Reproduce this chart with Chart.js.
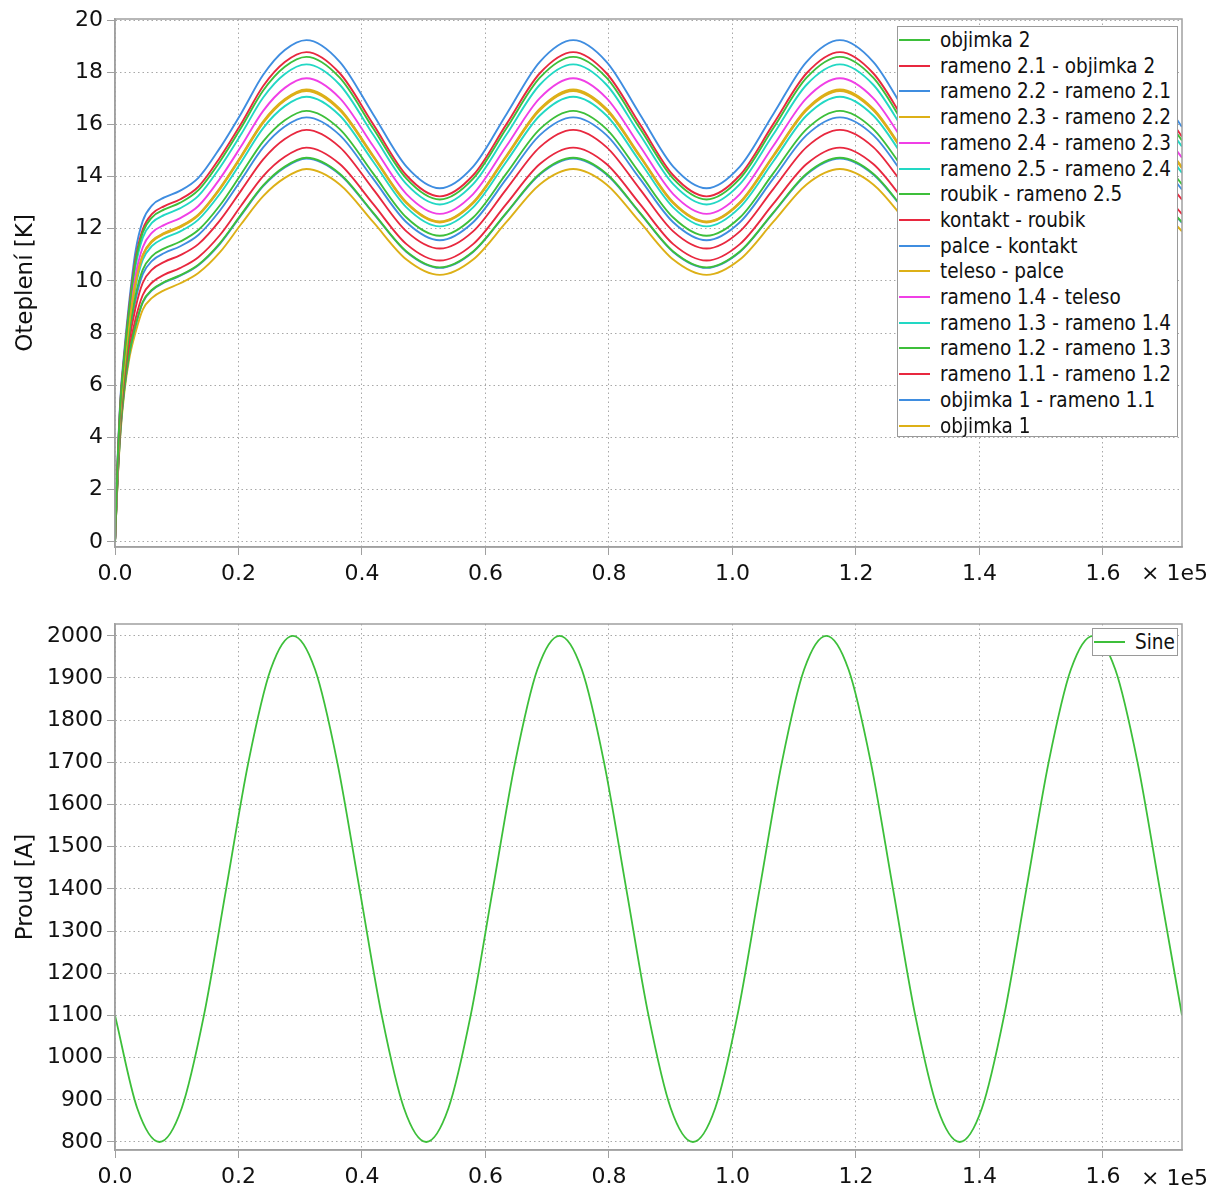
<!DOCTYPE html>
<html>
<head>
<meta charset="utf-8">
<script src="https://cdn.jsdelivr.net/npm/chart.js@4.4.1/dist/chart.umd.min.js"></script>
<style>
  body { margin: 0; background: #fff; }
  #wrap { position: relative; width: 1221px; height: 1195px; }
  canvas { position: absolute; left: 0; }
  .legend {
    position: absolute; background: #fff; border: 1px solid #9a9a9a; box-sizing: border-box;
    font-family: "DejaVu Sans Condensed", "DejaVu Sans", sans-serif; font-size: 20.5px; color: #111;
  }
  .legend .row { position: absolute; left: 0; right: 0; height: 26px; line-height: 26px; white-space: nowrap; }
  .legend .swatch { position: absolute; left: 1px; top: 12px; width: 31px; height: 2px; }
  .legend .txt { position: absolute; left: 42px; top: 0; }
</style>
</head>
<body>
<div id="wrap">
  <canvas id="tempChart" width="1221" height="598" style="top:0"></canvas>
  <canvas id="currentChart" width="1221" height="597" style="top:598px"></canvas>
  <div id="tempLegend" class="legend" style="left:897px; top:26px; width:281px; height:411px;"></div>
  <div id="currentLegend" class="legend" style="left:1092px; top:628px; width:86px; height:28px;"></div>
</div>
<script>
// time axis (s) for the temperature curves
const times = [0, 400, 900, 1500, 2300, 3300, 4500, 6000, 8000, 10500, 13500, 17000, 20500, 24000, 27500, 31000,
  36400, 41800, 47200, 52600, 58000, 63400, 68800, 74200,
  79600, 85000, 90400, 95800, 101200, 106600, 112000, 117400,
  122800, 128200, 133600, 139000, 144400, 149800, 155200, 160600,
  166000, 171400, 172800];

// temperature rise [K], one array per link
const tObjimka2 = [0, 2.90, 5.42, 7.09, 8.91, 10.70, 11.86, 12.44, 12.74, 12.99, 13.48, 14.58, 15.90, 17.30, 18.21, 18.59,
  17.79, 15.85, 13.92, 13.12, 13.92, 15.85, 17.79, 18.59,
  17.79, 15.85, 13.92, 13.12, 13.92, 15.85, 17.79, 18.59,
  17.79, 15.85, 13.92, 13.12, 13.92, 15.85, 17.79, 18.59,
  17.79, 15.85, 15.38];
const tRameno21 = [0, 2.93, 5.47, 7.15, 9.00, 10.81, 11.98, 12.57, 12.87, 13.12, 13.61, 14.73, 16.05, 17.47, 18.39, 18.77,
  17.96, 16.01, 14.05, 13.24, 14.05, 16.01, 17.96, 18.77,
  17.96, 16.01, 14.05, 13.24, 14.05, 16.01, 17.96, 18.77,
  17.96, 16.01, 14.05, 13.24, 14.05, 16.01, 17.96, 18.77,
  17.96, 16.01, 15.53];
const tRameno22 = [0, 3.0, 5.6, 7.3, 9.2, 11.1, 12.3, 12.9, 13.2, 13.45, 13.95, 15.1, 16.45, 17.9, 18.85, 19.23,
  18.40, 16.39, 14.38, 13.55, 14.38, 16.39, 18.40, 19.23,
  18.40, 16.39, 14.38, 13.55, 14.38, 16.39, 18.40, 19.23,
  18.40, 16.39, 14.38, 13.55, 14.38, 16.39, 18.40, 19.23,
  18.40, 16.39, 15.90];
const tRameno23 = [0, 2.69, 5.06, 6.69, 8.36, 9.91, 11.00, 11.54, 11.84, 12.09, 12.55, 13.57, 14.82, 16.12, 16.97, 17.34,
  16.60, 14.81, 13.02, 12.28, 13.02, 14.81, 16.60, 17.34,
  16.60, 14.81, 13.02, 12.28, 13.02, 14.81, 16.60, 17.34,
  16.60, 14.81, 13.02, 12.28, 13.02, 14.81, 16.60, 17.34,
  16.60, 14.81, 14.37];
const tRameno24 = [0, 2.76, 5.19, 6.83, 8.55, 10.18, 11.29, 11.85, 12.15, 12.40, 12.87, 13.92, 15.19, 16.52, 17.40, 17.77,
  17.01, 15.17, 13.33, 12.57, 13.33, 15.17, 17.01, 17.77,
  17.01, 15.17, 13.33, 12.57, 13.33, 15.17, 17.01, 17.77,
  17.01, 15.17, 13.33, 12.57, 13.33, 15.17, 17.01, 17.77,
  17.01, 15.17, 14.72];
const tRameno25 = [0, 2.85, 5.34, 7.00, 8.79, 10.52, 11.66, 12.23, 12.53, 12.78, 13.26, 14.35, 15.65, 17.03, 17.93, 18.30,
  17.52, 15.61, 13.71, 12.93, 13.71, 15.61, 17.52, 18.30,
  17.52, 15.61, 13.71, 12.93, 13.71, 15.61, 17.52, 18.30,
  17.52, 15.61, 13.71, 12.93, 13.71, 15.61, 17.52, 18.30,
  17.52, 15.61, 15.15];
const tRoubik = [0, 2.56, 4.83, 6.42, 7.99, 9.40, 10.43, 10.95, 11.25, 11.50, 11.95, 12.90, 14.12, 15.35, 16.16, 16.52,
  15.82, 14.12, 12.43, 11.73, 12.43, 14.12, 15.82, 16.52,
  15.82, 14.12, 12.43, 11.73, 12.43, 14.12, 15.82, 16.52,
  15.82, 14.12, 12.43, 11.73, 12.43, 14.12, 15.82, 16.52,
  15.82, 14.12, 13.70];
const tKontakt = [0, 2.44, 4.63, 6.19, 7.67, 8.94, 9.93, 10.43, 10.73, 10.98, 11.41, 12.32, 13.49, 14.66, 15.44, 15.79,
  15.13, 13.52, 11.90, 11.24, 11.90, 13.52, 15.13, 15.79,
  15.13, 13.52, 11.90, 11.24, 11.90, 13.52, 15.13, 15.79,
  15.13, 13.52, 11.90, 11.24, 11.90, 13.52, 15.13, 15.79,
  15.13, 13.52, 13.12];
const tPalce = [0, 2.52, 4.76, 6.34, 7.88, 9.24, 10.26, 10.77, 11.07, 11.32, 11.76, 12.70, 13.90, 15.12, 15.92, 16.27,
  15.59, 13.92, 12.25, 11.56, 12.25, 13.92, 15.59, 16.27,
  15.59, 13.92, 12.25, 11.56, 12.25, 13.92, 15.59, 16.27,
  15.59, 13.92, 12.25, 11.56, 12.25, 13.92, 15.59, 16.27,
  15.59, 13.92, 13.50];
const tTeleso = [0, 2.68, 5.05, 6.67, 8.33, 9.88, 10.96, 11.50, 11.80, 12.05, 12.51, 13.52, 14.77, 16.06, 16.92, 17.28,
  16.54, 14.76, 12.97, 12.24, 12.97, 14.76, 16.54, 17.28,
  16.54, 14.76, 12.97, 12.24, 12.97, 14.76, 16.54, 17.28,
  16.54, 14.76, 12.97, 12.24, 12.97, 14.76, 16.54, 17.28,
  16.54, 14.76, 14.32];
const tRameno14 = [0, 2.69, 5.06, 6.68, 8.34, 9.89, 10.98, 11.52, 11.82, 12.07, 12.53, 13.54, 14.80, 16.09, 16.94, 17.31,
  16.57, 14.78, 13.00, 12.26, 13.00, 14.78, 16.57, 17.31,
  16.57, 14.78, 13.00, 12.26, 13.00, 14.78, 16.57, 17.31,
  16.57, 14.78, 13.00, 12.26, 13.00, 14.78, 16.57, 17.31,
  16.57, 14.78, 14.34];
const tRameno13 = [0, 2.65, 4.99, 6.60, 8.23, 9.74, 10.81, 11.34, 11.64, 11.89, 12.35, 13.34, 14.58, 15.86, 16.70, 17.06,
  16.34, 14.58, 12.82, 12.09, 12.82, 14.58, 16.34, 17.06,
  16.34, 14.58, 12.82, 12.09, 12.82, 14.58, 16.34, 17.06,
  16.34, 14.58, 12.82, 12.09, 12.82, 14.58, 16.34, 17.06,
  16.34, 14.58, 14.14];
const tRameno12 = [0, 2.27, 4.32, 5.84, 7.19, 8.27, 9.20, 9.66, 9.96, 10.21, 10.62, 11.45, 12.57, 13.66, 14.38, 14.72,
  14.11, 12.62, 11.13, 10.52, 11.13, 12.62, 14.11, 14.72,
  14.11, 12.62, 11.13, 10.52, 11.13, 12.62, 14.11, 14.72,
  14.11, 12.62, 11.13, 10.52, 11.13, 12.62, 14.11, 14.72,
  14.11, 12.62, 12.25];
const tRameno11 = [0, 2.33, 4.43, 5.97, 7.37, 8.52, 9.46, 9.94, 10.24, 10.49, 10.91, 11.76, 12.91, 14.02, 14.76, 15.11,
  14.48, 12.95, 11.41, 10.78, 11.41, 12.95, 14.48, 15.11,
  14.48, 12.95, 11.41, 10.78, 11.41, 12.95, 14.48, 15.11,
  14.48, 12.95, 11.41, 10.78, 11.41, 12.95, 14.48, 15.11,
  14.48, 12.95, 12.56];
const tObjimka1Link = [0, 2.27, 4.31, 5.83, 7.18, 8.25, 9.18, 9.64, 9.94, 10.19, 10.60, 11.42, 12.54, 13.63, 14.35, 14.69,
  14.08, 12.60, 11.11, 10.50, 11.11, 12.60, 14.08, 14.69,
  14.08, 12.60, 11.11, 10.50, 11.11, 12.60, 14.08, 14.69,
  14.08, 12.60, 11.11, 10.50, 11.11, 12.60, 14.08, 14.69,
  14.08, 12.60, 12.22];
const tObjimka1 = [0, 2.2, 4.2, 5.7, 7.0, 8.0, 8.9, 9.35, 9.65, 9.9, 10.3, 11.1, 12.2, 13.25, 13.95, 14.29,
  13.70, 12.26, 10.82, 10.23, 10.82, 12.26, 13.70, 14.29,
  13.70, 12.26, 10.82, 10.23, 10.82, 12.26, 13.70, 14.29,
  13.70, 12.26, 10.82, 10.23, 10.82, 12.26, 13.70, 14.29,
  13.70, 12.26, 11.90];

const tempLabels = ["objimka 2", "rameno 2.1 - objimka 2", "rameno 2.2 - rameno 2.1", "rameno 2.3 - rameno 2.2",
  "rameno 2.4 - rameno 2.3", "rameno 2.5 - rameno 2.4", "roubik - rameno 2.5", "kontakt - roubik",
  "palce - kontakt", "teleso - palce", "rameno 1.4 - teleso", "rameno 1.3 - rameno 1.4",
  "rameno 1.2 - rameno 1.3", "rameno 1.1 - rameno 1.2", "objimka 1 - rameno 1.1", "objimka 1"];
const tempValues = [tObjimka2, tRameno21, tRameno22, tRameno23, tRameno24, tRameno25, tRoubik, tKontakt,
  tPalce, tTeleso, tRameno14, tRameno13, tRameno12, tRameno11, tObjimka1Link, tObjimka1];

// current [A]
const currentTimes = [0, 3600, 7200, 10800, 14400, 18000, 21600, 25200, 28800, 32400, 36000, 39600,
  43200, 46800, 50400, 54000, 57600, 61200, 64800, 68400, 72000, 75600, 79200, 82800,
  86400, 90000, 93600, 97200, 100800, 104400, 108000, 111600, 115200, 118800, 122400, 126000,
  129600, 133200, 136800, 140400, 144000, 147600, 151200, 154800, 158400, 162000, 165600, 169200,
  172800];
const currentValues = [1100, 880, 800, 880, 1100, 1400, 1700, 1920, 2000, 1920, 1700, 1400,
  1100, 880, 800, 880, 1100, 1400, 1700, 1920, 2000, 1920, 1700, 1400,
  1100, 880, 800, 880, 1100, 1400, 1700, 1920, 2000, 1920, 1700, 1400,
  1100, 880, 800, 880, 1100, 1400, 1700, 1920, 2000, 1920, 1700, 1400,
  1100];

// ticks
const xTicks = [0, 20000, 40000, 60000, 80000, 100000, 120000, 140000, 160000];
const tempTicks = [0, 2, 4, 6, 8, 10, 12, 14, 16, 18, 20];
const currentTicks = [800, 900, 1000, 1100, 1200, 1300, 1400, 1500, 1600, 1700, 1800, 1900, 2000];

// line colours, cycling like the plotting tool does
const palette = ["#3dbf3a", "#e8283f", "#3f8de0", "#ddb017", "#f03fe6", "#22d8c4"];

const FONT = '"DejaVu Sans", sans-serif';
const AXIS = "#a0a0a0";

const framePlugin = {
  id: "frame",
  afterDraw(chart, args, opts) {
    const { ctx, chartArea: a } = chart;
    ctx.save();
    ctx.strokeStyle = AXIS;
    ctx.lineWidth = 1.5;
    ctx.strokeRect(a.left, a.top, a.right - a.left, a.bottom - a.top);
    ctx.fillStyle = "#111";
    ctx.font = "22px " + FONT;
    ctx.textBaseline = "middle";
    ctx.fillText("\u00d7 1e5", 1141, a.bottom + opts.unitOffset);
    ctx.restore();
  }
};

function makeChart(canvasId, datasets, cfg) {
  return new Chart(document.getElementById(canvasId), {
    type: "line",
    data: { datasets },
    plugins: [framePlugin],
    options: {
      responsive: false,
      animation: false,
      layout: { padding: { top: cfg.top, right: 39, left: 0, bottom: 0 } },
      elements: { point: { radius: 0 } },
      plugins: {
        legend: { display: false },
        tooltip: { enabled: false },
        frame: { unitOffset: cfg.unitOffset }
      },
      scales: {
        x: {
          type: "linear",
          min: 0,
          max: 172800,
          afterBuildTicks: s => { s.ticks = xTicks.map(v => ({ value: v })); },
          afterFit: s => { s.height = cfg.xHeight; },
          ticks: {
            color: "#111", font: { family: FONT, size: 22 }, padding: 6, maxRotation: 0,
            callback: v => (v / 1e5).toFixed(1)
          },
          grid: { color: "#a8a8a8", tickColor: AXIS, tickLength: 8 },
          border: { color: AXIS, width: 1.5, dash: [1.5, 3] }
        },
        y: {
          min: cfg.yMin,
          max: cfg.yMax,
          afterBuildTicks: s => { s.ticks = cfg.yTicks.map(v => ({ value: v })); },
          afterFit: s => { s.width = 115; },
          ticks: { color: "#111", font: { family: FONT, size: 22 }, padding: 4, callback: v => String(v) },
          grid: { color: "#a8a8a8", tickColor: AXIS, tickLength: 8 },
          border: { color: AXIS, width: 1.5, dash: [1.5, 3] },
          title: { display: true, text: cfg.yTitle, color: "#111", font: { family: FONT, size: 23 }, padding: { top: 12, bottom: 0 } }
        }
      }
    }
  });
}

const tempDatasets = tempValues.map((vals, i) => ({
  label: tempLabels[i],
  data: times.map((t, j) => ({ x: t, y: vals[j] })),
  borderColor: palette[i % palette.length],
  borderWidth: 1.9,
  cubicInterpolationMode: "monotone",
  fill: false
}));

const currentDatasets = [{
  label: "Sine",
  data: currentTimes.map((t, j) => ({ x: t, y: currentValues[j] })),
  borderColor: "#3dbf3a",
  borderWidth: 1.8,
  cubicInterpolationMode: "monotone",
  fill: false
}];

makeChart("tempChart", tempDatasets, {
  top: 19, xHeight: 51, yMin: -0.2, yMax: 20.04, yTicks: tempTicks, yTitle: "Oteplení [K]", unitOffset: 27
});
makeChart("currentChart", currentDatasets, {
  top: 26, xHeight: 45, yMin: 781, yMax: 2028, yTicks: currentTicks, yTitle: "Proud [A]", unitOffset: 29
});

// legends inside the plot, built from the datasets
function buildLegend(el, datasets, rowH) {
  datasets.forEach((ds, i) => {
    const row = document.createElement("div");
    row.className = "row";
    row.style.top = Math.round(i * rowH) + "px";
    const sw = document.createElement("span");
    sw.className = "swatch";
    sw.style.background = ds.borderColor;
    const txt = document.createElement("span");
    txt.className = "txt";
    txt.textContent = ds.label;
    row.appendChild(sw);
    row.appendChild(txt);
    el.appendChild(row);
  });
}
buildLegend(document.getElementById("tempLegend"), tempDatasets, 25.7);
buildLegend(document.getElementById("currentLegend"), currentDatasets, 25.7);
</script>
</body>
</html>
